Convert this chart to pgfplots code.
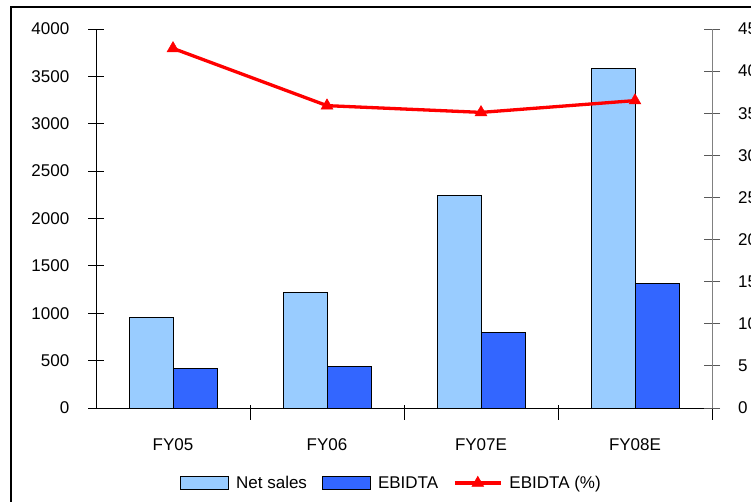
\documentclass[border=0pt]{standalone}
\usepackage{fontspec}
\setmainfont{Liberation Sans}
\usepackage{pgfplots}
\pgfplotsset{compat=1.18}
\definecolor{netsales}{HTML}{99CCFF}
\definecolor{ebitda}{HTML}{3366FF}
\pgfplotsset{boxlegend/.style={legend image code/.code={\draw[##1] (0pt,-6.5pt) rectangle (48pt,6.5pt);}},
  linelegend/.style={legend image code/.code={\draw[##1, mark repeat=2, mark phase=2] plot coordinates {(0pt,0pt) (23pt,0pt) (46pt,0pt)};}}}
\newcommand{\chartfont}{\fontsize{17}{20}\selectfont}
\begin{document}
\begin{tikzpicture}[x=1pt,y=1pt]
\useasboundingbox (0,0) rectangle (751,501);
\draw[line width=1.6pt] (11,-20) -- (11,494) -- (780,494);
\begin{axis}[
  at={(96pt,93pt)}, anchor=south west, scale only axis,
  width=616pt, height=379pt,
  xmin=-0.5, xmax=3.5, ymin=0, ymax=4000,
  axis x line*=bottom, axis y line*=left,
  axis line style={black, line width=0.8pt},
  ytick={0,500,...,4000},
  tick align=center, major tick length=15pt,
  ytick style={black, line width=0.8pt},
  yticklabel style={font=\chartfont, anchor=east, inner sep=0pt, xshift=-19pt},
  /pgf/number format/assume math mode=true,
  /pgf/number format/1000 sep={},
  xtick={0.5,1.5,2.5,3.5}, xticklabels={},
  xtick style={black, line width=0.8pt, yshift=-4pt},
  extra x ticks={0,1,2,3},
  extra x tick labels={FY05,FY06,FY07E,FY08E},
  extra x tick style={major tick length=0pt, xticklabel style={font=\chartfont, anchor=base, inner sep=0pt, yshift=-42pt}},
  clip=false,
]
\addplot[ybar, bar width=44pt, bar shift=-22pt, fill=netsales, draw=black, line width=1pt]
  coordinates {(0,960) (1,1214) (2,2248) (3,3588)};
\addplot[ybar, bar width=44pt, bar shift=22pt, fill=ebitda, draw=black, line width=1pt]
  coordinates {(0,412) (1,433) (2,792) (3,1310)};
\end{axis}
\begin{axis}[
  at={(96pt,93pt)}, anchor=south west, scale only axis,
  width=616pt, height=379pt,
  xmin=-0.5, xmax=3.5, ymin=0, ymax=45,
  axis x line=none, axis y line*=right,
  y axis line style={gray, line width=0.8pt},
  ytick={0,5,...,45},
  tick align=center, major tick length=16pt,
  ytick style={gray!70!black, line width=0.8pt},
  yticklabel style={font=\chartfont, anchor=west, inner sep=0pt, xshift=18pt},
  /pgf/number format/assume math mode=true,
  clip=false,
  legend columns=3,
  legend style={draw=none, fill=none, font=\chartfont, at={(0.478,-0.198)}, anchor=center,
    nodes={inner sep=0pt},
    /tikz/every odd column/.append style={column sep=7pt},
    /tikz/every even column/.append style={column sep=15pt}},
]
\addlegendimage{boxlegend, fill=netsales, draw=black, line width=1pt}
\addlegendentry{Net sales}
\addlegendimage{boxlegend, fill=ebitda, draw=black, line width=1pt}
\addlegendentry{EBIDTA}
\addplot[red, line width=3.3pt, mark=triangle*, mark size=6.8pt,
  mark options={line width=0.5pt}, linelegend]
  coordinates {(0,42.7) (1,35.9) (2,35.1) (3,36.5)};
\addlegendentry{EBIDTA (\%)}
\end{axis}
\end{tikzpicture}
\end{document}
